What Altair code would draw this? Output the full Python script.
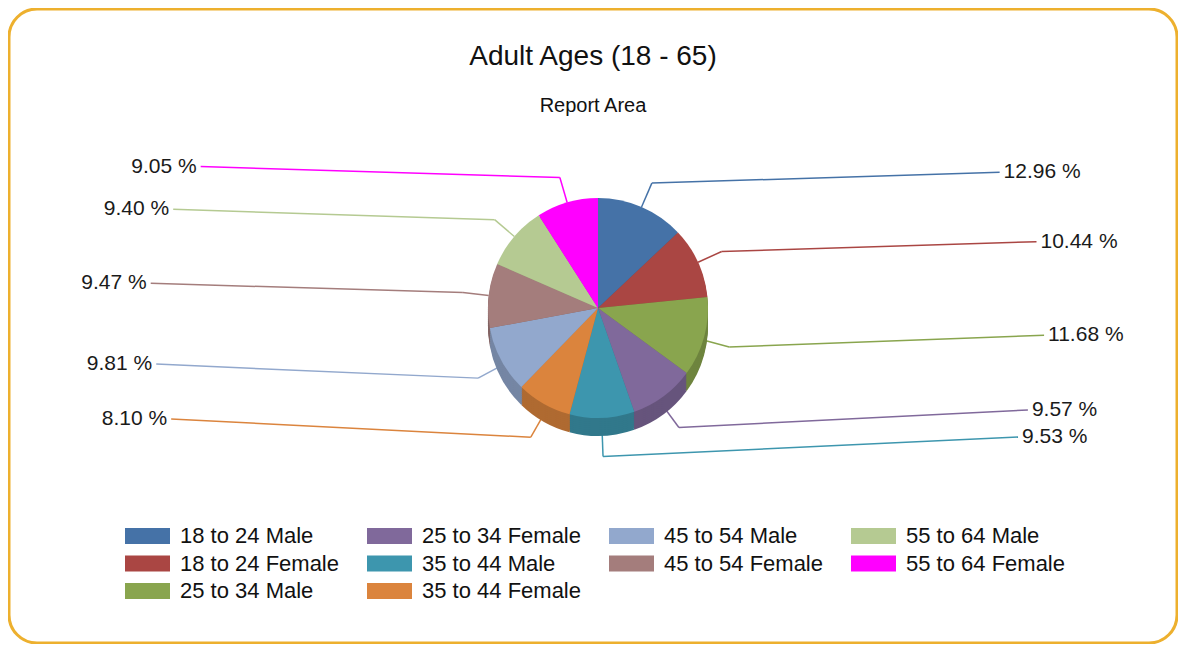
import altair as alt
import pandas as pd

# ---- data ----
categories = ["18 to 24 Male", "18 to 24 Female", "25 to 34 Male", "25 to 34 Female",
              "35 to 44 Male", "35 to 44 Female", "45 to 54 Male", "45 to 54 Female",
              "55 to 64 Male", "55 to 64 Female"]
percent = [12.96, 10.44, 11.68, 9.57, 9.53, 8.10, 9.81, 9.47, 9.40, 9.05]

# ---- styles ----
colors = ["#4572A7", "#AA4643", "#89A54E", "#80699B", "#3D96AE",
          "#DB843D", "#92A8CD", "#A47D7C", "#B5CA92", "#FF00FF"]
dark = ["#375B86", "#883836", "#6E843E", "#66547C", "#31788B",
        "#AF6A31", "#7586A4", "#836463", "#91A275", "#CC00CC"]
legend_order = [0, 3, 6, 8, 1, 4, 7, 9, 2, 5]  # 4 columns, filled like the reference

df = pd.DataFrame({"category": categories, "percent": percent,
                   "idx": list(range(len(categories)))})

W, H = 1168, 634
CX, CY, R, DEPTH = 589, 299, 110, 18
LCY, LRY = 290, 138
FONT = "Liberation Sans"

dom = [categories[i] for i in legend_order]
main_scale = alt.Scale(domain=dom, range=[colors[i] for i in legend_order])
dark_scale = alt.Scale(domain=dom, range=[dark[i] for i in legend_order])
xs = alt.Scale(domain=[0, W], nice=False, zero=False)
ys = alt.Scale(domain=[H, 0], nice=False, zero=False)

theta = alt.Theta("percent:Q", stack=True)
order = alt.Order("idx:Q")

layers = []
for dy in range(DEPTH, 0, -2):
    layers.append(
        alt.Chart(df).mark_arc(radius=R).encode(
            theta=theta, order=order,
            color=alt.Color("category:N", scale=dark_scale, legend=None),
            x=alt.value(CX), y=alt.value(CY + dy)))

top = alt.Chart(df).mark_arc(radius=R).encode(
    theta=theta, order=order,
    color=alt.Color("category:N", scale=main_scale, legend=alt.Legend(
        title=None, orient="none", legendX=116, legendY=516, columns=4,
        direction="horizontal",
        symbolType="M-1,-0.36H1V0.36H-1Z", symbolSize=2025, symbolStrokeWidth=0,
        symbolOpacity=1, clipHeight=22, rowPadding=5.5, columnPadding=28,
        labelFont=FONT, labelFontSize=22, labelColor="#111111", labelOffset=10,
        labelLimit=300, padding=0)),
    x=alt.value(CX), y=alt.value(CY))
layers.append(top)

base = alt.Chart(df).transform_joinaggregate(
    total="sum(percent)"
).transform_window(
    cum="sum(percent)", sort=[alt.SortField("idx")], frame=[None, 0]
).transform_calculate(
    th="2*PI*(datum.cum - datum.percent/2)/datum.total"
).transform_calculate(
    s="sin(datum.th)", c="cos(datum.th)",
    drop=f"max(0, -cos(datum.th))*{DEPTH}*0.7"
).transform_calculate(
    sx=f"{CX} + {R}*datum.s", sy=f"{CY} - {R}*datum.c + datum.drop",
    ex=f"{CX} + {R + 26}*datum.s", ey=f"{CY} - {R + 26}*datum.c + datum.drop",
    ly=f"{LCY} - {LRY}*datum.c",
    ldx="452 - (datum.c > 0 ? 55 : 28)*datum.c*datum.c",
    label="format(datum.percent, '.2f') + ' %'"
).transform_calculate(
    lx=f"datum.s >= 0 ? {CX} + datum.ldx : {CX} - datum.ldx",
    lend=f"datum.s >= 0 ? {CX} + datum.ldx - 4 : {CX} - datum.ldx + 4"
)

lead_color = alt.Color("category:N", scale=main_scale, legend=None)
rule1 = base.mark_rule(strokeWidth=1.5).encode(
    x=alt.X("sx:Q", scale=xs, axis=None), y=alt.Y("sy:Q", scale=ys, axis=None),
    x2="ex:Q", y2="ey:Q", color=lead_color)
rule2 = base.mark_rule(strokeWidth=1.5).encode(
    x=alt.X("ex:Q", scale=xs, axis=None), y=alt.Y("ey:Q", scale=ys, axis=None),
    x2="lend:Q", y2="ly:Q", color=lead_color)
txt_r = base.transform_filter("datum.s >= 0").mark_text(
    align="left", baseline="middle", font=FONT, fontSize=21, color="#1a1a1a").encode(
    x=alt.X("lx:Q", scale=xs, axis=None), y=alt.Y("ly:Q", scale=ys, axis=None),
    text="label:N")
txt_l = base.transform_filter("datum.s < 0").mark_text(
    align="right", baseline="middle", font=FONT, fontSize=21, color="#1a1a1a").encode(
    x=alt.X("lx:Q", scale=xs, axis=None), y=alt.Y("ly:Q", scale=ys, axis=None),
    text="label:N")

chart = alt.layer(rule1, rule2, *layers, txt_r, txt_l).resolve_scale(
    color="independent"
).properties(
    width=W, height=H, padding=1,
    autosize=alt.AutoSizeParams(type="none"),
    title=alt.TitleParams(
        text="Adult Ages (18 - 65)", subtitle="Report Area",
        font=FONT, subtitleFont=FONT, fontSize=28, subtitleFontSize=20,
        fontWeight="normal", color="#111111", subtitleColor="#111111",
        anchor="middle", offset=-107, subtitlePadding=25),
).configure_view(
    stroke="#EDB02E", strokeWidth=3, cornerRadius=28
)

chart.save("out.html", embed_options={"renderer": "svg", "actions": False})
